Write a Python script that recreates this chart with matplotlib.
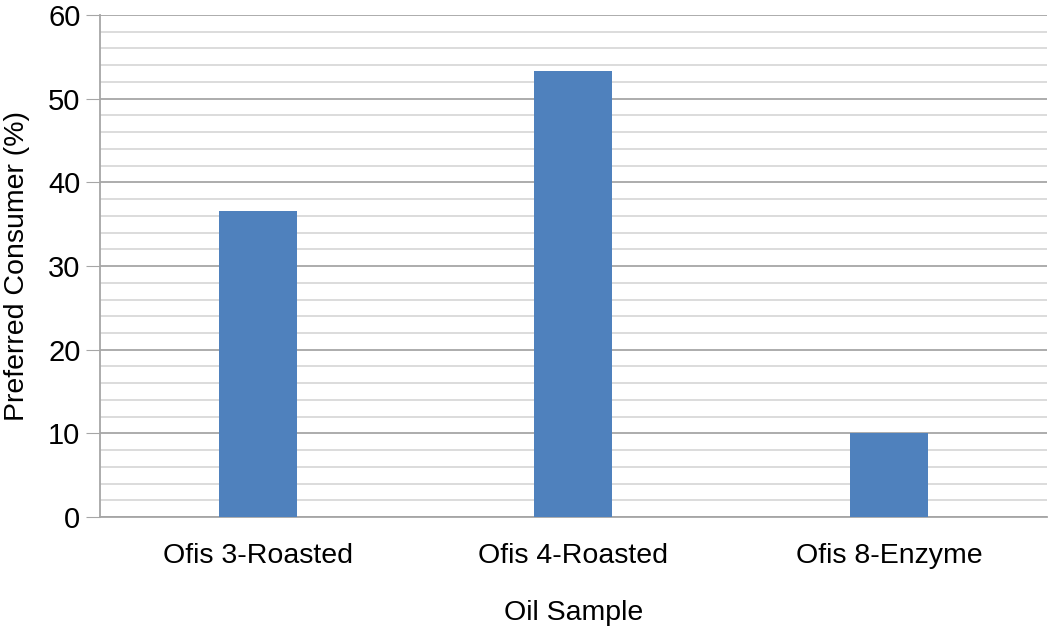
import matplotlib.pyplot as plt
import numpy as np

plt.rcParams['font.family'] = ['Liberation Sans', 'DejaVu Sans']

# Data
samples = ["Ofis 3-Roasted", "Ofis 4-Roasted", "Ofis 8-Enzyme"]
preferred = [36.6, 53.3, 10.0]

fig = plt.figure(figsize=(10.52, 6.26), dpi=100)
ax = fig.add_axes([0.095, 0.174, 0.9, 0.802])

x = np.arange(len(samples))
ax.bar(x, preferred, width=0.247, color="#4f81bd", zorder=3)

ax.set_xlim(-0.5, len(samples) - 0.5)
ax.set_ylim(0, 60)
ax.set_yticks(np.arange(0, 61, 10))
ax.set_yticks(np.arange(0, 61, 2), minor=True)
ax.grid(True, axis="y", which="minor", color="#d9d9d9", linewidth=1.3, zorder=0)
ax.grid(True, axis="y", which="major", color="#a6a6a6", linewidth=1.3, zorder=1)

ax.set_xticks(x)
ax.set_xticklabels(samples)
ax.tick_params(axis="x", length=0, labelsize=20.5, pad=19)
ax.tick_params(axis="y", which="major", length=10, color="#a6a6a6", labelsize=21, pad=4)
ax.tick_params(axis="y", which="minor", length=0)

for s in ["top", "right"]:
    ax.spines[s].set_visible(False)
ax.spines["left"].set_color("#a6a6a6")
ax.spines["bottom"].set_color("#a6a6a6")
ax.spines["left"].set_linewidth(1.3)
ax.spines["bottom"].set_linewidth(1.3)

ax.set_xlabel("Oil Sample", fontsize=20.5, labelpad=22)
ax.set_ylabel("Preferred Consumer (%)", fontsize=20.5, labelpad=13)

fig.savefig("out.png", dpi=100)
